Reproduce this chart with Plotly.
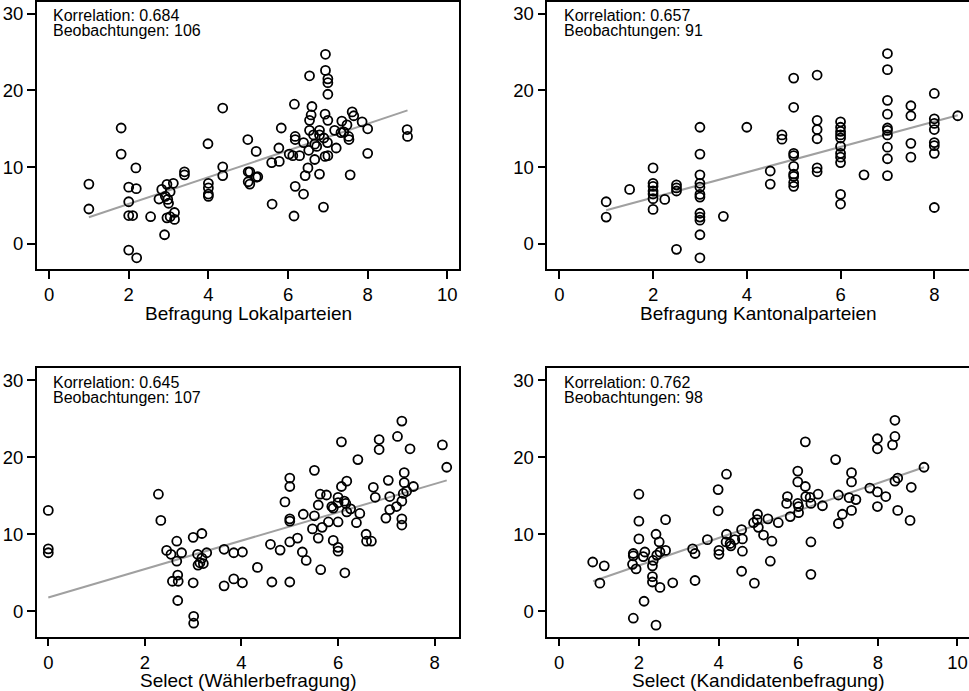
import plotly.graph_objects as go

# ---------------- data ----------------
p1_x = [1.0, 1.0, 1.81, 1.81, 2.18, 2.0, 2.19, 2.0, 2.0, 2.1, 2.0, 2.2, 2.55, 2.9, 2.96, 3.12, 2.83, 3.04,
        2.92, 2.98, 3.0, 2.76, 3.15, 3.04, 2.96, 3.15, 3.4, 3.4, 3.99, 4.0, 4.0, 4.0, 4.0, 4.36, 4.36, 4.36,
        4.99, 5.2, 5.0, 5.04, 5.0, 5.04, 5.2, 5.24, 5.6, 5.59, 5.78, 5.77, 5.83, 6.15, 6.18, 6.39, 6.16, 6.18,
        6.18, 6.03, 6.12, 6.29, 6.39, 6.54, 6.54, 6.58, 6.6, 6.54, 6.52, 6.5, 6.43, 6.64, 6.67, 6.67, 6.72,
        6.79, 6.79, 6.79, 6.89, 6.94, 6.94, 7.0, 7.0, 7.0, 6.93, 7.0, 6.99, 6.93, 7.0, 7.21, 7.17, 7.35, 7.33,
        7.48, 7.52, 7.53, 7.56, 7.61, 7.65, 7.86, 8.0, 8.0, 8.99, 9.0, 7.4, 6.9]
p1_y = [7.8, 4.55, 15.1, 11.7, 9.9, 7.4, 7.2, 5.5, 3.7, 3.7, -0.8, -1.8, 3.55, 1.2, 7.76, 7.9, 7.1, 6.8,
        6.2, 5.8, 5.3, 5.85, 4.1, 3.55, 3.4, 3.2, 9.4, 9.0, 13.05, 7.9, 7.3, 6.5, 6.2, 17.7, 10.05, 8.9,
        13.6, 12.05, 9.4, 9.4, 8.1, 7.8, 8.7, 8.75, 5.2, 10.6, 10.75, 12.5, 15.1, 3.64, 7.5, 6.5, 18.2, 14.0,
        13.6, 11.7, 11.5, 11.5, 13.2, 21.9, 16.1, 16.8, 17.9, 14.8, 12.2, 9.9, 8.9, 14.2, 13.0, 11.0, 12.7,
        14.8, 14.2, 9.1, 4.8, 24.7, 22.6, 21.5, 21.0, 19.5, 16.9, 16.1, 13.2, 11.4, 11.5, 12.5, 14.8, 16.0, 14.5,
        15.5, 14.0, 13.6, 9.0, 17.2, 16.7, 15.9, 15.0, 11.8, 14.9, 14.0, 14.6, 13.8]
fit1_x = [1.0, 9.0]
fit1_y = [3.47, 17.4]

p2_x = [1.0, 1.0, 1.5, 2.0, 2.0, 2.0, 2.0, 2.0, 2.0, 2.0, 2.25, 2.5, 2.5, 2.5, 2.5, 3.0, 3.0, 3.0, 3.0,
        3.0, 3.0, 3.0, 3.0, 3.0, 3.0, 3.0, 3.0, 3.5, 4.0, 4.5, 4.5, 4.75, 4.75, 5.0, 5.0, 5.0, 5.0, 5.0, 5.0,
        5.0, 5.0, 5.0, 5.5, 5.5, 5.5, 5.5, 5.5, 5.5, 6.0, 6.0, 6.0, 6.0, 6.0, 6.0, 6.0, 6.0, 6.0, 6.0, 6.0,
        6.5, 7.0, 7.0, 7.0, 7.0, 7.0, 7.0, 7.0, 7.0, 7.0, 7.0, 7.5, 7.5, 7.5, 7.5, 8.0, 8.0, 8.0, 8.0, 8.0,
        8.0, 8.0, 8.0, 8.5]
p2_y = [5.5, 3.5, 7.1, 9.9, 7.9, 7.5, 6.9, 6.5, 5.9, 4.5, 5.8, 7.7, 7.3, 6.9, -0.7, 15.2, 11.7, 9.0, 7.9,
        7.4, 6.45, 6.1, 4.0, 3.5, 3.1, 1.2, -1.8, 3.6, 15.2, 9.5, 7.8, 14.2, 13.65, 21.6, 17.8, 11.8, 11.5,
        10.1, 9.1, 8.8, 8.0, 7.5, 22.0, 16.1, 14.9, 13.7, 9.9, 9.4, 15.9, 15.2, 14.65, 14.2, 13.8, 12.7, 11.8,
        11.3, 10.6, 6.45, 5.2, 9.0, 24.8, 22.7, 18.7, 16.9, 15.1, 14.8, 14.2, 12.6, 11.1, 8.9, 18.0, 16.7,
        13.1, 11.3, 19.6, 16.3, 15.7, 14.9, 13.2, 12.8, 11.8, 4.75, 16.7]
fit2_x = [1.0, 8.5]
fit2_y = [4.4, 16.75]

p3_x = [0.0, 0.0, 0.0, 2.28, 2.33, 2.45, 2.54, 2.66, 2.66, 2.76, 2.68, 2.57, 2.69, 2.68, 3.0, 3.18, 3.0,
        3.01, 3.01, 3.09, 3.18, 3.14, 3.21, 3.1, 3.28, 3.64, 3.84, 4.02, 3.64, 3.84, 4.02, 4.33, 4.63, 5.0,
        4.8, 4.6, 4.9, 5.0, 5.0, 5.0, 5.0, 5.0, 5.16, 5.28, 5.26, 5.34, 5.51, 5.51, 5.47, 5.59, 5.59, 5.64,
        5.63, 5.67, 5.76, 5.8, 5.87, 5.9, 5.9, 6.0, 6.0, 6.0, 6.0, 6.0, 6.07, 6.07, 6.13, 6.16, 6.18, 6.18,
        6.14, 6.26, 6.38, 6.45, 6.41, 6.58, 6.59, 6.69, 6.73, 6.77, 6.85, 6.85, 6.99, 7.04, 7.07, 7.07, 7.21,
        7.23, 7.32, 7.32, 7.32, 7.32, 7.35, 7.37, 7.37, 7.42, 7.49, 7.56, 8.16, 8.25]
p3_y = [13.1, 8.1, 7.6, 15.2, 11.8, 7.9, 7.4, 9.1, 6.5, 7.6, 4.7, 3.9, 3.9, 1.4, 9.6, 10.1, 3.7,
        -0.65, -1.55, 7.4, 6.9, 6.3, 6.2, 6.0, 7.6, 8.05, 7.6, 7.7, 3.3, 4.2, 3.7, 5.7, 3.8, 3.8,
        7.95, 8.7, 14.2, 17.3, 16.2, 12.0, 11.7, 9.0, 9.5, 12.6, 7.7, 6.6, 18.3, 12.4, 10.7, 13.8, 9.5, 5.4,
        15.2, 10.9, 15.1, 11.6, 13.6, 13.4, 9.2, 14.8, 14.1, 11.6, 8.3, 7.8, 22.0, 16.2, 14.3, 14.0, 16.9, 12.9,
        5.0, 13.3, 11.5, 12.7, 19.7, 10.0, 9.1, 9.1, 16.1, 14.8, 22.3, 21.0, 12.1, 17.0, 14.9, 13.2, 13.6,
        22.7, 24.7, 12.0, 11.2, 14.3, 15.3, 18.0, 16.7, 15.6, 21.1, 16.2, 21.6, 18.7]
fit3_x = [0.0, 8.25]
fit3_y = [1.8, 17.0]

p4_x = [0.84, 1.13, 1.02, 1.86, 1.86, 1.84, 1.93, 2.0, 2.0, 2.0, 2.11, 2.15, 1.86, 2.13, 2.34, 2.34, 2.34,
        2.43, 2.45, 2.51, 2.53, 2.67, 2.67, 2.53, 2.85, 2.43, 2.36, 3.35, 3.41, 3.41, 3.72, 3.99, 3.99, 4.01,
        4.01, 4.2, 4.2, 4.19, 4.29, 4.31, 4.41, 4.58, 4.6, 4.6, 4.58, 4.9, 4.88, 4.98, 4.97, 5.0, 5.13, 5.24,
        5.34, 5.3, 5.5, 5.73, 5.71, 5.8, 5.99, 5.99, 5.99, 6.01, 6.01, 6.18, 6.18, 6.19, 6.3, 6.32, 6.32, 6.32,
        6.5, 6.61, 6.94, 7.01, 7.11, 7.01, 7.34, 7.34, 7.28, 7.45, 7.34, 7.8, 7.99, 7.99, 7.99, 7.99, 8.2,
        8.37, 8.43, 8.43, 8.43, 8.5, 8.5, 8.84, 8.81, 9.16]
p4_y = [6.4, 5.9, 3.65, 7.5, 7.2, 6.1, 5.5, 15.2, 11.7, 9.4, 7.1, 7.7, -0.9, 1.3, 5.9, 4.5, 3.8,
        10.0, 7.3, 9.0, 7.7, 7.9, 11.9, 3.1, 3.7, -1.8, 6.6, 8.1, 7.5, 4.0, 9.3, 15.8, 13.05, 7.9,
        7.4, 17.8, 10.0, 9.0, 8.8, 8.5, 9.3, 10.6, 9.4, 7.8, 5.2, 3.65, 11.5, 12.6, 11.9, 10.9, 9.9, 12.0,
        9.1, 6.5, 11.5, 14.9, 14.0, 12.3, 18.2, 16.8, 14.0, 13.6, 12.8, 22.0, 16.2, 14.9, 14.8, 14.0, 9.0, 4.8,
        15.2, 13.7, 19.7, 15.1, 12.6, 11.4, 18.0, 16.8, 14.75, 14.5, 13.1, 16.0, 22.4, 21.1, 15.5, 13.6, 14.9,
        21.6, 22.7, 24.8, 16.9, 17.3, 13.1, 16.1, 11.8, 18.7]
fit4_x = [0.85, 9.16]
fit4_y = [3.9, 18.7]

x_titles = ["Befragung Lokalparteien", "Befragung Kantonalparteien",
            "Select (Wählerbefragung)", "Select (Kandidatenbefragung)"]
corr_labels = ["Korrelation: 0.684", "Korrelation: 0.657", "Korrelation: 0.645", "Korrelation: 0.762"]
obs_labels = ["Beobachtungen: 106", "Beobachtungen: 91", "Beobachtungen: 107", "Beobachtungen: 98"]
x_ticks = [[0, 2, 4, 6, 8, 10], [0, 2, 4, 6, 8], [0, 2, 4, 6, 8], [0, 2, 4, 6, 8, 10]]
y_ticks = [0, 10, 20, 30]

# ---------------- figure ----------------
W, H = 969, 691
FONT = "Liberation Sans, Arial, sans-serif"
fig = go.Figure()

panels = [(p1_x, p1_y, fit1_x, fit1_y), (p2_x, p2_y, fit2_x, fit2_y),
          (p3_x, p3_y, fit3_x, fit3_y), (p4_x, p4_y, fit4_x, fit4_y)]

xdom = [[36.7 / W, 459.3 / W], [547.3 / W, 1.0], [36.7 / W, 459.3 / W], [547.3 / W, 1.0]]
ydom = [[1 - 269.3 / H, 1 - 1.7 / H], [1 - 269.3 / H, 1 - 1.7 / H],
        [1 - 636.7 / H, 1 - 368.3 / H], [1 - 636.7 / H, 1 - 368.3 / H]]
xranges = [[-0.31, 10.30], [-0.256, 8.74], [-0.24, 8.51], [-0.30, 10.29]]
yrange = [-3.3, 31.55]
# axis-title baselines (pixels from top) for top and bottom rows
title_y = [313.0, 313.0, 680.5, 680.5]

for i, (px, py, fx, fy) in enumerate(panels):
    n = "" if i == 0 else str(i + 1)
    fig.add_trace(go.Scatter(x=fx, y=fy, mode="lines", line=dict(color="#a0a0a0", width=2),
                             xaxis="x" + n, yaxis="y" + n, showlegend=False, hoverinfo="skip"))
    fig.add_trace(go.Scatter(x=px, y=py, mode="markers",
                             marker=dict(symbol="circle-open", size=9, color="black",
                                         line=dict(width=1.8, color="black")),
                             xaxis="x" + n, yaxis="y" + n, showlegend=False))
    right_panel = i in (1, 3)
    fig.layout["xaxis" + n] = dict(
        domain=xdom[i], range=xranges[i], anchor="y" + n,
        tickmode="array", tickvals=x_ticks[i], ticks="outside", ticklen=8, tickwidth=1.5,
        tickcolor="black", showline=True, linecolor="black", linewidth=1.5, mirror=True,
        showgrid=False, zeroline=False,
        tickfont=dict(family=FONT, size=18.5, color="black"),
    )
    fig.layout["yaxis" + n] = dict(
        domain=ydom[i], range=yrange, anchor="x" + n,
        tickmode="array", tickvals=y_ticks, ticks="outside", ticklen=8, tickwidth=1.5,
        tickcolor="black", showline=True, linecolor="black", linewidth=1.5,
        mirror=(not right_panel), showgrid=False, zeroline=False,
        tickfont=dict(family=FONT, size=18.5, color="black"),
    )
    # x-axis title as annotation for exact placement
    fig.add_annotation(text=x_titles[i], xref="x" + n + " domain", yref="paper",
                       x=0.5, y=1 - title_y[i] / H, xanchor="center", yanchor="middle",
                       showarrow=False, font=dict(family=FONT, size=19, color="black"))
    fig.add_annotation(text=corr_labels[i], xref="x" + n + " domain", yref="y" + n + " domain",
                       x=0.035, y=0.948, xanchor="left", yanchor="middle", showarrow=False,
                       font=dict(family=FONT, size=16, color="black"))
    fig.add_annotation(text=obs_labels[i], xref="x" + n + " domain", yref="y" + n + " domain",
                       x=0.035, y=0.892, xanchor="left", yanchor="middle", showarrow=False,
                       font=dict(family=FONT, size=16, color="black"))

fig.update_layout(width=W, height=H, margin=dict(l=0, r=0, t=0, b=0),
                  paper_bgcolor="white", plot_bgcolor="white",
                  font=dict(family=FONT, color="black"))

fig.write_html("out.html")
